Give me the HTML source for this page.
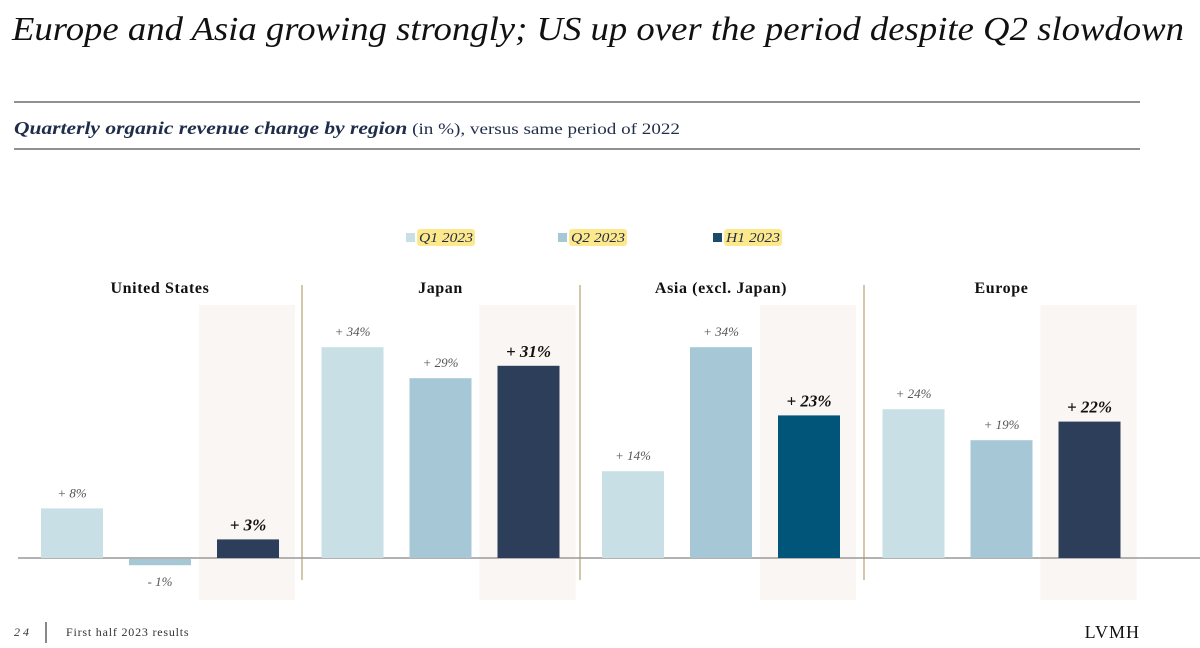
<!DOCTYPE html>
<html><head><meta charset="utf-8"><style>
html,body{margin:0;padding:0;background:#fff;width:1200px;height:648px;overflow:hidden}
text{font-family:"Liberation Serif",serif}
</style></head><body>
<svg id="chart" width="1200" height="648" viewBox="0 0 1200 648" xmlns="http://www.w3.org/2000/svg">
<text x="12" y="40" font-size="34" font-style="italic" fill="#111" textLength="1172" lengthAdjust="spacingAndGlyphs">Europe and Asia growing strongly; US up over the period despite Q2 slowdown</text>
<line x1="14" y1="102" x2="1140" y2="102" stroke="#222" stroke-width="1"/>
<text x="14" y="134" font-size="18" fill="#1f2d4a" textLength="666" lengthAdjust="spacingAndGlyphs"><tspan font-weight="bold" font-style="italic">Quarterly organic revenue change by region</tspan><tspan font-size="16"> (in %), versus same period of 2022</tspan></text>
<line x1="14" y1="149" x2="1140" y2="149" stroke="#222" stroke-width="1"/>
<g id="legend"></g>
<g id="plot"></g>
<text x="14" y="636" font-size="12" font-style="italic" fill="#333" letter-spacing="3">24</text>
<line x1="46" y1="622" x2="46" y2="643" stroke="#111" stroke-width="1"/>
<text x="66" y="636" font-size="12" fill="#333" letter-spacing="0.8">First half 2023 results</text>
<text x="1140" y="638" font-size="18" fill="#111" text-anchor="end" letter-spacing="1">LVMH</text>
</svg>
<script>
const regions = ["United States","Japan","Asia (excl. Japan)","Europe"];
const series = ["Q1 2023","Q2 2023","H1 2023"];
const q1 = [8,34,14,24];
const q2 = [-1,29,34,19];
const h1 = [3,31,23,22];
const values=[q1,q2,h1];
const NS="http://www.w3.org/2000/svg";
const plot=document.getElementById('plot');
const legend=document.getElementById('legend');
const baseY=558, pxPer=6.2, groupX0=41, groupStep=280.5, barStep=88, barW=62;
const colors=["#c8dfe5","#a6c8d6","#2c3e5a"];
function yS(v){return baseY - v*pxPer;}
function xS(g,s){return groupX0+g*groupStep+s*barStep;}
function mk(tag,attrs,parent){const e=document.createElementNS(NS,tag);for(const k in attrs)e.setAttribute(k,attrs[k]);parent.appendChild(e);return e;}
const legX=[406,558,713];
series.forEach((s,i)=>{
  const g=mk('g',{},legend);
  
  
  mk('rect',{x:legX[i],y:233,width:9,height:9,fill:i==2?"#1c4a6a":colors[i]},g);
  mk('rect',{x:legX[i]+11,y:229,width:58,height:17,rx:3,fill:"#fde98c"},g);
  const t=mk('text',{x:legX[i]+13,y:242,'font-size':14,'font-style':'italic',fill:"#1f2d4a",textLength:54,lengthAdjust:'spacingAndGlyphs'},g);
  t.textContent=s;
});
const sepX=[302,580,864];
regions.forEach((r,g)=>{
  const hx=xS(g,2)-18;
  const bg=mk('rect',{x:hx,y:305,width:96,height:295,fill:"#faf6f3"},plot);
  
  
  if(g>0){
    const sx=sepX[g-1];
    const ln=mk('line',{x1:sx,y1:285,x2:sx,y2:580,stroke:"#b8a070",'stroke-width':1.2},plot);
    
    
  }
  const t=mk('text',{x:xS(g,1)+barW/2,y:293,'font-size':16,'font-weight':'bold','text-anchor':'middle',fill:"#111",'letter-spacing':0.6},plot);
  
  
  t.textContent=r;
});
const ax=mk('line',{x1:18,y1:baseY,x2:1200,y2:baseY,stroke:"#999",'stroke-width':1.5},plot);


values.forEach((arr,s)=>{
  arr.forEach((v,g)=>{
    const x=xS(g,s), y0=yS(Math.max(v,0)), h=Math.abs(v)*pxPer;
    let fill=colors[s];
    if(s==2&&g==2) fill="#005578";
    const b=mk('rect',{x:x,y:v>=0?y0:baseY+1,width:barW,height:Math.max(h,1),fill:fill},plot);
    
    
    const bold=s==2;
    const ly=v>=0?yS(v)-(bold?9:11):baseY+h+22;
    const lab=mk('text',{x:x+barW/2,y:ly,'font-size':bold?17:13,'font-style':'italic','font-weight':bold?'bold':'normal','text-anchor':'middle',fill:bold?"#111":"#555"},plot);
    
    
    lab.textContent=(v>=0?'+ ':'- ')+Math.abs(v)+'%';
  });
});
</script>
</body></html>
